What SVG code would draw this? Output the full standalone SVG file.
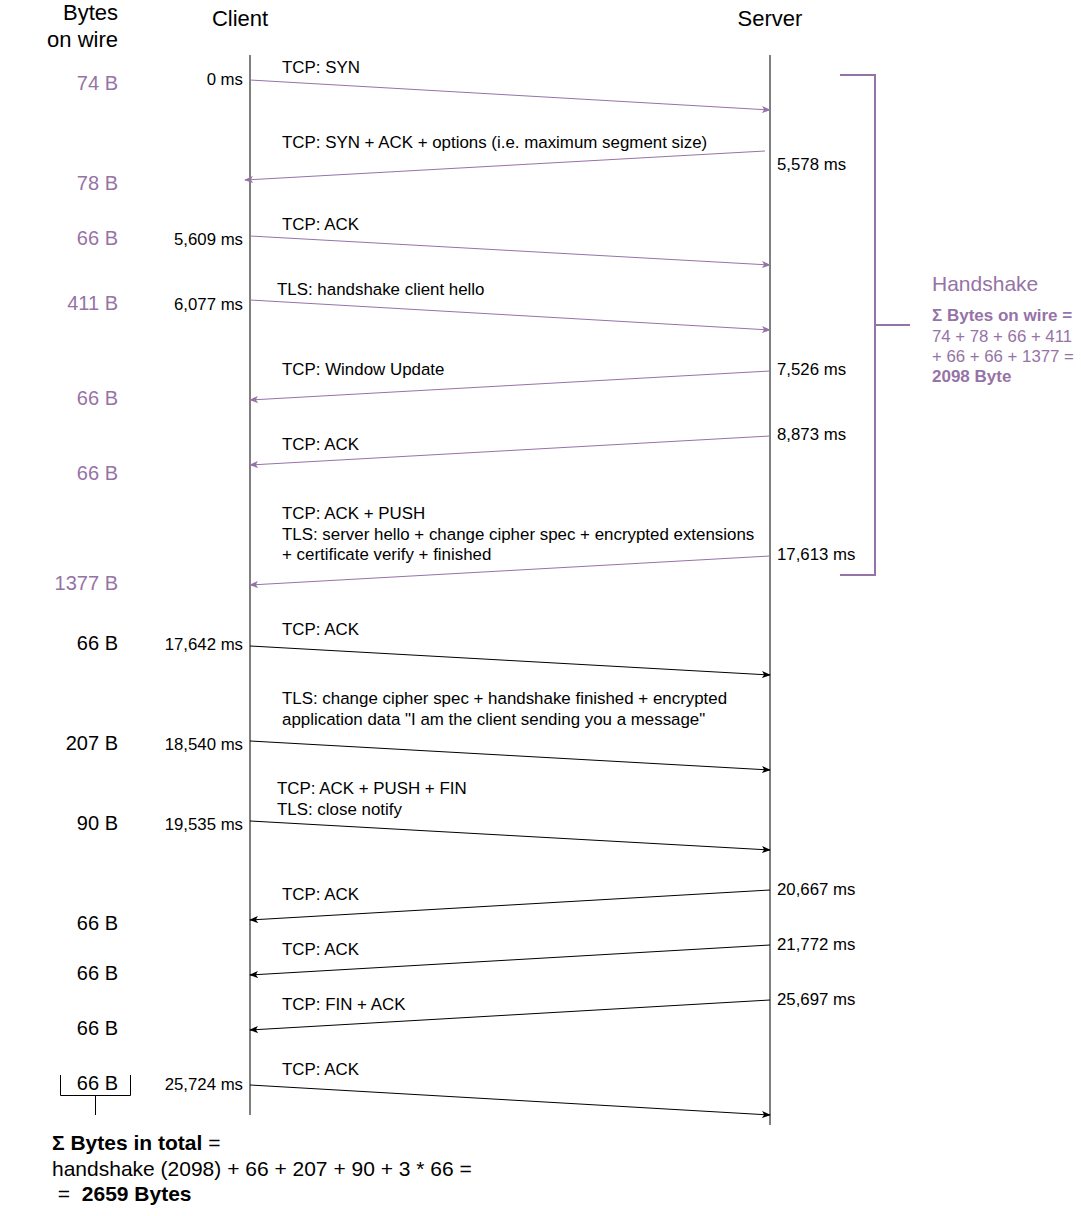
<svg xmlns="http://www.w3.org/2000/svg" width="1081" height="1216" viewBox="0 0 1081 1216">
<style>
text{font-family:"Liberation Sans",Arial,sans-serif;fill:#000}
.h{font-size:22px}
.lbl{font-size:16.9px}
.ms{font-size:16.8px}
.b{font-size:20px;text-anchor:end}
.p{fill:#9673A6}
.bold{font-weight:bold}
.life{stroke:#000;stroke-width:1;fill:none}
.mp{stroke:#9673A6;stroke-width:1;fill:none;marker-end:url(#ap)}
.mb{stroke:#000;stroke-width:1;fill:none;marker-end:url(#ab)}
</style>
<defs>
<marker id="ap" viewBox="0 0 10 10" refX="9" refY="5" markerWidth="9" markerHeight="9" markerUnits="userSpaceOnUse" orient="auto"><path d="M0,1 L10,5 L0,9 L2.5,5 Z" fill="#9673A6"/></marker>
<marker id="ab" viewBox="0 0 10 10" refX="9" refY="5" markerWidth="9" markerHeight="9" markerUnits="userSpaceOnUse" orient="auto"><path d="M0,1 L10,5 L0,9 L2.5,5 Z" fill="#000"/></marker>
</defs>
<rect width="1081" height="1216" fill="#fff"/>
<g id="headers">
<text class="h" x="118" y="20" text-anchor="end">Bytes</text>
<text class="h" x="118" y="47" text-anchor="end">on wire</text>
<text class="h" x="240" y="26" text-anchor="middle">Client</text>
<text class="h" x="770" y="26" text-anchor="middle">Server</text>
</g>
<g id="client-lifeline"><line class="life" x1="250" y1="55" x2="250" y2="1115"/></g>
<g id="server-lifeline"><line class="life" x1="770" y1="55" x2="770" y2="1125"/></g>
<g id="connectors">
<line class="mp" x1="250" y1="80" x2="770" y2="110"/>
<line class="mp" x1="765" y1="151" x2="245" y2="180"/>
<line class="mp" x1="250" y1="236" x2="770" y2="265"/>
<line class="mp" x1="250" y1="300" x2="770" y2="330"/>
<line class="mp" x1="770" y1="371" x2="250" y2="400"/>
<line class="mp" x1="770" y1="436" x2="250" y2="465"/>
<line class="mp" x1="770" y1="556" x2="250" y2="585"/>
<line class="mb" x1="250" y1="646" x2="770" y2="675"/>
<line class="mb" x1="250" y1="741" x2="770" y2="770"/>
<line class="mb" x1="250" y1="821" x2="770" y2="850"/>
<line class="mb" x1="770" y1="890" x2="250" y2="920"/>
<line class="mb" x1="770" y1="945" x2="250" y2="975"/>
<line class="mb" x1="770" y1="1000" x2="250" y2="1030"/>
<line class="mb" x1="250" y1="1085" x2="770" y2="1115"/>
</g>
<g id="message-labels">
<text class="lbl" x="282" y="73">TCP: SYN</text>
<text class="lbl" x="282" y="148">TCP: SYN + ACK + options (i.e. maximum segment size)</text>
<text class="lbl" x="282" y="230">TCP: ACK</text>
<text class="lbl" x="277" y="295">TLS: handshake client hello</text>
<text class="lbl" x="282" y="375">TCP: Window Update</text>
<text class="lbl" x="282" y="450">TCP: ACK</text>
<text class="lbl" x="282" y="519">TCP: ACK + PUSH</text>
<text class="lbl" x="282" y="540">TLS: server hello + change cipher spec + encrypted extensions</text>
<text class="lbl" x="282" y="560">+ certificate verify + finished</text>
<text class="lbl" x="282" y="635">TCP: ACK</text>
<text class="lbl" x="282" y="704">TLS: change cipher spec + handshake finished + encrypted</text>
<text class="lbl" x="282" y="725">application data "I am the client sending you a message"</text>
<text class="lbl" x="277" y="794">TCP: ACK + PUSH + FIN</text>
<text class="lbl" x="277" y="815">TLS: close notify</text>
<text class="lbl" x="282" y="900">TCP: ACK</text>
<text class="lbl" x="282" y="955">TCP: ACK</text>
<text class="lbl" x="282" y="1010">TCP: FIN + ACK</text>
<text class="lbl" x="282" y="1075">TCP: ACK</text>
</g>
<g id="time-labels">
<text class="ms" x="243" y="85" text-anchor="end">0 ms</text>
<text class="ms" x="777" y="170">5,578 ms</text>
<text class="ms" x="243" y="245" text-anchor="end">5,609 ms</text>
<text class="ms" x="243" y="310" text-anchor="end">6,077 ms</text>
<text class="ms" x="777" y="375">7,526 ms</text>
<text class="ms" x="777" y="440">8,873 ms</text>
<text class="ms" x="777" y="560">17,613 ms</text>
<text class="ms" x="243" y="650" text-anchor="end">17,642 ms</text>
<text class="ms" x="243" y="750" text-anchor="end">18,540 ms</text>
<text class="ms" x="243" y="830" text-anchor="end">19,535 ms</text>
<text class="ms" x="777" y="895">20,667 ms</text>
<text class="ms" x="777" y="950">21,772 ms</text>
<text class="ms" x="777" y="1005">25,697 ms</text>
<text class="ms" x="243" y="1090" text-anchor="end">25,724 ms</text>
</g>
<g id="bytes-labels">
<text class="b p" x="118" y="90">74 B</text>
<text class="b p" x="118" y="190">78 B</text>
<text class="b p" x="118" y="245">66 B</text>
<text class="b p" x="118" y="310">411 B</text>
<text class="b p" x="118" y="405">66 B</text>
<text class="b p" x="118" y="480">66 B</text>
<text class="b p" x="118" y="590">1377 B</text>
<text class="b" x="118" y="650">66 B</text>
<text class="b" x="118" y="750">207 B</text>
<text class="b" x="118" y="830">90 B</text>
<text class="b" x="118" y="930">66 B</text>
<text class="b" x="118" y="980">66 B</text>
<text class="b" x="118" y="1035">66 B</text>
<text class="b" x="118" y="1090">66 B</text>
</g>
<g id="handshake-bracket">
<path d="M840,75 H875 V575 H840 M875,325 H910" fill="none" stroke="#9673A6" stroke-width="2"/>
</g>
<g id="handshake-summary">
<text class="p" x="932" y="291" font-size="21">Handshake</text>
<text class="p bold" x="932" y="321" font-size="17">Σ Bytes on wire =</text>
<text class="p" x="932" y="342" font-size="16.8">74 + 78 + 66 + 411</text>
<text class="p" x="932" y="362" font-size="16.8">+ 66 + 66 + 1377 =</text>
<text class="p bold" x="932" y="382" font-size="17">2098 Byte</text>
</g>
<g id="total-bracket">
<path d="M60.5,1075 V1095.5 H130.5 V1075 M95.5,1095.5 V1115" fill="none" stroke="#000" stroke-width="1"/>
</g>
<g id="total-summary">
<text x="52" y="1150" font-size="21"><tspan font-weight="bold">Σ Bytes in total</tspan> =</text>
<text x="52" y="1176" font-size="21">handshake (2098) + 66 + 207 + 90 + 3 * 66 =</text>
<text x="52" y="1201" font-size="21" xml:space="preserve"> =  <tspan font-weight="bold">2659 Bytes</tspan></text>
</g>
</svg>
